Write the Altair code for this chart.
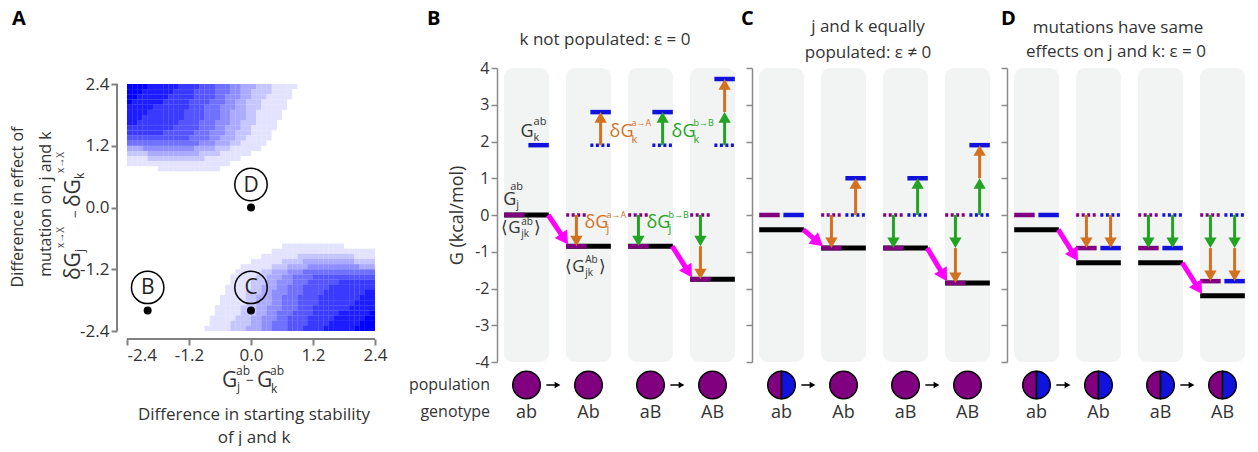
import math
import altair as alt
import pandas as pd

# ---------------- data ----------------
GENOTYPES = ["ab", "Ab", "aB", "AB"]

B_GJ = [0.0, -0.85, -0.85, -1.75]
B_GK = [1.9, 2.8, 2.8, 3.7]
B_ENS = [0.0, -0.85, -0.85, -1.75]
B_POP = ["j", "j", "j", "j"]

C_GJ = [0.0, -0.9, -0.9, -1.85]
C_GK = [0.0, 1.0, 1.0, 1.9]
C_ENS = [-0.4, -0.9, -0.9, -1.85]
C_POP = ["jk", "j", "j", "j"]

D_GJ = [0.0, -0.9, -0.9, -1.8]
D_GK = [0.0, -0.9, -0.9, -1.8]
D_ENS = [-0.4, -1.3, -1.3, -2.2]
D_POP = ["jk", "jk", "jk", "jk"]

G_TICKS = [-4, -3, -2, -1, 0, 1, 2, 3, 4]

A_TICKS = [-2.4, -1.2, 0.0, 1.2, 2.4]
# panel A colour field: 48 rows (y = 2.35 ... -2.35, step 0.1),
# each row as (level 0-9, number of 0.1-wide cells) runs from x = -2.4 to 2.4
HEAT_RUNS = [
    [(9, 4), (8, 6), (7, 4), (6, 3), (5, 3), (4, 2), (3, 3), (2, 3), (1, 5), (0, 15)],
    [(9, 3), (8, 6), (7, 4), (6, 4), (5, 3), (4, 2), (3, 2), (2, 4), (1, 4), (0, 16)],
    [(9, 2), (8, 6), (7, 5), (6, 4), (5, 2), (4, 3), (3, 2), (2, 3), (1, 5), (0, 16)],
    [(9, 1), (8, 6), (7, 5), (6, 4), (5, 3), (4, 2), (3, 2), (2, 3), (1, 5), (0, 17)],
    [(8, 5), (7, 7), (6, 3), (5, 3), (4, 3), (3, 2), (2, 3), (1, 5), (0, 17)],
    [(8, 4), (7, 7), (6, 4), (5, 3), (4, 2), (3, 3), (2, 2), (1, 5), (0, 18)],
    [(8, 3), (7, 8), (6, 4), (5, 3), (4, 2), (3, 3), (2, 2), (1, 5), (0, 18)],
    [(8, 2), (7, 8), (6, 4), (5, 3), (4, 3), (3, 2), (2, 3), (1, 4), (0, 19)],
    [(7, 9), (6, 5), (5, 3), (4, 2), (3, 3), (2, 2), (1, 5), (0, 19)],
    [(7, 7), (6, 6), (5, 3), (4, 3), (3, 2), (2, 3), (1, 4), (0, 20)],
    [(6, 12), (5, 4), (4, 2), (3, 3), (2, 2), (1, 5), (0, 20)],
    [(5, 14), (4, 3), (3, 3), (2, 2), (1, 5), (0, 21)],
    [(3, 3), (4, 10), (3, 4), (2, 3), (1, 6), (0, 22)],
    [(2, 4), (3, 10), (2, 4), (1, 6), (0, 24)],
    [(1, 4), (2, 11), (1, 7), (0, 26)],
    [(1, 20), (0, 28)],
    [(0, 6), (1, 12), (0, 30)],
    [(0, 48)],
    [(0, 48)],
    [(0, 48)],
    [(0, 48)],
    [(0, 48)],
    [(0, 48)],
    [(0, 48)],
    [(0, 48)],
    [(0, 48)],
    [(0, 48)],
    [(0, 48)],
    [(0, 48)],
    [(0, 48)],
    [(0, 48)],
    [(0, 30), (1, 12), (0, 6)],
    [(0, 28), (1, 20)],
    [(0, 26), (1, 7), (2, 11), (1, 4)],
    [(0, 24), (1, 6), (2, 4), (3, 10), (2, 4)],
    [(0, 22), (1, 6), (2, 3), (3, 4), (4, 10), (3, 3)],
    [(0, 21), (1, 5), (2, 2), (3, 3), (4, 3), (5, 14)],
    [(0, 20), (1, 5), (2, 2), (3, 3), (4, 2), (5, 4), (6, 12)],
    [(0, 20), (1, 4), (2, 3), (3, 2), (4, 3), (5, 3), (6, 6), (7, 7)],
    [(0, 19), (1, 5), (2, 2), (3, 3), (4, 2), (5, 3), (6, 5), (7, 9)],
    [(0, 19), (1, 4), (2, 3), (3, 2), (4, 3), (5, 3), (6, 4), (7, 8), (8, 2)],
    [(0, 18), (1, 5), (2, 2), (3, 3), (4, 2), (5, 3), (6, 4), (7, 8), (8, 3)],
    [(0, 18), (1, 5), (2, 2), (3, 3), (4, 2), (5, 3), (6, 4), (7, 7), (8, 4)],
    [(0, 17), (1, 5), (2, 3), (3, 2), (4, 3), (5, 3), (6, 3), (7, 7), (8, 5)],
    [(0, 17), (1, 5), (2, 3), (3, 2), (4, 2), (5, 3), (6, 4), (7, 5), (8, 6), (9, 1)],
    [(0, 16), (1, 5), (2, 3), (3, 2), (4, 3), (5, 2), (6, 4), (7, 5), (8, 6), (9, 2)],
    [(0, 16), (1, 4), (2, 4), (3, 2), (4, 2), (5, 3), (6, 4), (7, 4), (8, 6), (9, 3)],
    [(0, 15), (1, 5), (2, 3), (3, 3), (4, 2), (5, 3), (6, 3), (7, 4), (8, 6), (9, 4)],
]
HEAT_X0, HEAT_Y0, HEAT_STEP = -2.4, 2.4, 0.1

A_PTS_X = [-2.0, 0.0, 0.0]
A_PTS_Y = [-2.0, -2.0, 0.0]
A_PTS_LAB = ["B", "C", "D"]

# ---------------- style / layout ----------------
FONT = "Open Sans"
PURPLE = "#800080"
BLUE = "#1212DD"
ORANGE = "#D2711F"
GREEN = "#22A322"
MAGENTA = "#FF00FF"
INK = "#333333"
AXC = "#8a8a8a"
COLBG = "#F2F3F3"

PW, PH = 241, 294
SPACING = 14
XD = [-0.476, 3.411]
PXX = PW / (XD[1] - XD[0])
PXY = PH / 8.0
HALF = 0.363
LSIDE, RSIDE = -0.195, 0.195
HEAD_S = 150
HEAD_H = math.sqrt(HEAD_S) * math.sqrt(3) / 4
MAG_S = 220
MAG_H = math.sqrt(MAG_S) * math.sqrt(3) / 4

A_W, A_H = 356, 294
A_TOP, A_BOT = 16, 263
PXA = 248 / 4.8
PYA = (A_BOT - A_TOP) / 4.8

LEFT_HALF = "M0,-1 A1,1 0 0,0 0,1 Z"
RIGHT_HALF = "M0,-1 A1,1 0 0,1 0,1 Z"

NEG_INT = "datum.value < 0 ? '-' + format(-datum.value, 'd') : format(datum.value, 'd')"
NEG_1F = "datum.value < 0 ? '-' + format(-datum.value, '.1f') : format(datum.value, '.1f')"


def note(text, x, y, size, color=INK, align="left", angle=None, weight="normal",
         baseline="alphabetic"):
    kw = dict(align=align, baseline=baseline, fontSize=size, color=color, fontWeight=weight)
    if angle is not None:
        kw["angle"] = angle
    return alt.Chart(pd.DataFrame({"t": [text]})).mark_text(**kw).encode(
        x=alt.value(x), y=alt.value(y), text="t:N")


def panel(GJ, GK, ENS, POP, first, labels=None, titles=()):
    xs = alt.Scale(domain=XD, nice=False, zero=False)
    ys = alt.Scale(domain=[-4, 4], nice=False, zero=False)
    if first:
        yax = alt.Axis(values=G_TICKS, labelExpr=NEG_INT, tickSize=6, tickWidth=1.5,
                       tickColor=AXC, domainColor=AXC, domainWidth=1.5, labelFontSize=16,
                       labelColor=INK, labelPadding=2, title="G (kcal/mol)",
                       titleFontSize=18, titleFontWeight="normal", titleColor=INK,
                       titlePadding=8, grid=False)
    else:
        yax = alt.Axis(values=G_TICKS, labels=False, tickSize=6, tickWidth=1.5,
                       tickColor=AXC, domainColor=AXC, domainWidth=1.5, title=None, grid=False)

    def X(f="x"):
        return alt.X(f"{f}:Q", scale=xs, axis=None)

    def Y(f="y"):
        return alt.Y(f"{f}:Q", scale=ys, axis=yax)

    idx = list(range(4))
    bg = alt.Chart(pd.DataFrame({"x": [i - HALF for i in idx], "x2": [i + HALF for i in idx],
                                 "y": [-4] * 4, "y2": [4] * 4})).mark_rect(
        color=COLBG, cornerRadius=9).encode(x=X(), x2="x2:Q", y=Y("y"), y2="y2:Q")

    def hline(xa, xb, yv, color, dash=None, width=4.5):
        kw = dict(color=color, strokeWidth=width)
        if dash:
            kw["strokeDash"] = dash
        return alt.Chart(pd.DataFrame({"x": xa, "x2": xb, "y": yv})).mark_rule(**kw).encode(
            x=X(), x2="x2:Q", y=Y())

    black = hline([i - 0.36 for i in idx], [i + 0.36 for i in idx], ENS, "black", width=5)
    pur = hline([i - 0.36 for i in idx], [i - 0.03 for i in idx], GJ, PURPLE)
    blu = hline([i + 0.03 for i in idx], [i + 0.36 for i in idx], GK, BLUE)
    pdot = hline([i - 0.36 for i in idx[1:]], [i - 0.03 for i in idx[1:]], [GJ[0]] * 3,
                 PURPLE, dash=[3, 2.5], width=3.5)
    bdot = hline([i + 0.03 for i in idx[1:]], [i + 0.36 for i in idx[1:]], [GK[0]] * 3,
                 BLUE, dash=[3, 2.5], width=3.5)

    # mutation arrows
    arr = []
    for side, G in ((LSIDE, GJ), (RSIDE, GK)):
        arr.append((1 + side, G[0], G[1], "aA"))
        arr.append((2 + side, G[0], G[2], "bB"))
        arr.append((3 + side, G[0], G[2], "bB"))
        arr.append((3 + side, G[2], G[3], "aA"))
    arrow_layers = []
    for m, col in (("aA", ORANGE), ("bB", GREEN)):
        rows = []
        for x, ys0, ye, mm in arr:
            if mm != m:
                continue
            sgn = 1 if ye > ys0 else -1
            hc = ye - sgn * HEAD_H / PXY
            rows.append({"x": x, "y": ys0, "y2": hc, "hc": hc, "up": sgn > 0})
        adf = pd.DataFrame(rows)
        arrow_layers.append(alt.Chart(adf).mark_rule(strokeWidth=3, color=col).encode(
            x=X(), y=Y(), y2="y2:Q"))
        for up, shp in ((True, "triangle-up"), (False, "triangle-down")):
            sub = adf[adf["up"] == up]
            if len(sub):
                arrow_layers.append(alt.Chart(sub).mark_point(
                    shape=shp, filled=True, size=HEAD_S, color=col, opacity=1).encode(
                    x=X(), y=Y("hc")))

    # magenta arrows (ensemble change)
    mrows = []
    for i0 in (0, 2):
        x0, y0 = i0 + 0.35, ENS[i0]
        xt, yt = i0 + 1 - 0.33, ENS[i0 + 1] + 0.05
        dxp, dyp = (xt - x0) * PXX, -(yt - y0) * PXY
        L = math.hypot(dxp, dyp)
        ux, uy = dxp / L, dyp / L
        ang = math.degrees(math.atan2(dyp, dxp)) % 360
        hx, hy = xt - ux * MAG_H / PXX, yt + uy * MAG_H / PXY
        mrows.append({"x": x0, "y": y0, "x2": hx, "y2": hy, "ang": ang})
    mdf = pd.DataFrame(mrows)
    mshaft = alt.Chart(mdf).mark_rule(color=MAGENTA, strokeWidth=5).encode(
        x=X(), x2="x2:Q", y=Y(), y2="y2:Q")
    mhead = alt.Chart(mdf).mark_point(shape="triangle-right", filled=True, size=MAG_S,
                                      color=MAGENTA, opacity=1).encode(
        x=X("x2"), y=Y("y2"), angle=alt.Angle("ang:Q", scale=None))

    # population circles
    full_x = [i for i, p in enumerate(POP) if p == "j"]
    mix_x = [i for i, p in enumerate(POP) if p == "jk"]
    pop_layers = []
    for xs_, shp, col in ((full_x, "circle", PURPLE), (mix_x, LEFT_HALF, PURPLE),
                          (mix_x, RIGHT_HALF, BLUE)):
        if xs_:
            pop_layers.append(alt.Chart(pd.DataFrame({"x": xs_})).mark_point(
                shape=shp, filled=True, size=760, fill=col, stroke="black",
                strokeWidth=1.5, opacity=1).encode(x=X(), y=alt.value(317)))
    sdf = pd.DataFrame({"x": [p + 0.32 for p in (0, 2)], "x2": [p + 0.47 for p in (0, 2)],
                        "hx": [p + 0.5 for p in (0, 2)]})
    sarr = alt.Chart(sdf).mark_rule(color="black", strokeWidth=1.5).encode(
        x=X(), x2="x2:Q", y=alt.value(317))
    shead = alt.Chart(sdf).mark_point(shape="triangle-right", filled=True, size=45,
                                      color="black", opacity=1).encode(
        x=X("hx"), y=alt.value(317))
    geno = alt.Chart(pd.DataFrame({"x": idx, "g": GENOTYPES})).mark_text(
        fontSize=18, color=INK, baseline="middle").encode(x=X(), y=alt.value(345), text="g:N")

    layers = [bg, black, pur, blu, pdot, bdot] + arrow_layers + [mshaft, mhead] + \
        pop_layers + [sarr, shead, geno]

    if labels is not None:
        ldf = pd.DataFrame(labels)
        for ink, col in (("n", INK), ("aA", ORANGE), ("bB", GREEN)):
            sub = ldf[ldf["ink"] == ink]
            layers.append(alt.Chart(sub).mark_text(
                align="left", baseline="alphabetic", color=col).encode(
                x=X(), y=Y(), text="t:N", size=alt.Size("fs:Q", scale=None)))
    layers.extend(titles)
    return alt.layer(*layers).properties(width=PW, height=PH)


def pieces(ax, ay, spec, ink):
    return [{"x": ax + dx / PXX, "y": ay - dy / PXY, "t": t, "fs": fs, "ink": ink}
            for t, dx, dy, fs in spec]


blabels = []
blabels += pieces(0 + RSIDE, B_GK[0], [("G", -18, -8, 18), ("ab", -5, -20, 11),
                                       ("k", -5, -4, 11)], "n")
blabels += pieces(0 - 0.36, B_GJ[0], [("G", -1, -10, 18), ("ab", 6, -25, 11),
                                      ("j", 12, -7, 11)], "n")
blabels += pieces(0 - 0.36, B_ENS[0], [("⟨", -3, 18, 17), ("G", 4, 18, 17), ("ab", 17, 10, 10),
                                       ("jk", 17, 22, 10), ("⟩", 30, 18, 17)], "n")
blabels += pieces(1 - 0.36, B_ENS[1], [("⟨", -1, 26, 17), ("G", 6, 26, 17), ("Ab", 19, 17, 10),
                                       ("jk", 19, 30, 10), ("⟩", 33, 26, 17)], "n")
blabels += pieces(1 + RSIDE, B_GK[0], [("δG", 9, -8, 18), ("a→A", 31, -19, 9),
                                       ("k", 31, -2, 11)], "aA")
blabels += pieces(2 + RSIDE, B_GK[0], [("δG", 9, -8, 18), ("b→B", 31, -19, 9),
                                       ("k", 31, -2, 11)], "bB")
blabels += pieces(1 + LSIDE, B_GJ[0], [("δG", 8, 13, 18), ("a→A", 30, 3, 9),
                                       ("j", 30, 17, 11)], "aA")
blabels += pieces(2 + LSIDE, B_GJ[0], [("δG", 8, 13, 18), ("b→B", 30, 3, 9),
                                       ("j", 30, 17, 11)], "bB")

b_titles = [note("B", -70, -43, 20, color="black", weight="bold"),
            note("k not populated: ε = 0", 108, -23, 17, align="center"),
            note("population", -7, 317, 16, align="right", baseline="middle"),
            note("genotype", -7, 344, 16, align="right", baseline="middle")]
c_titles = [note("C", -11, -43, 20, color="black", weight="bold"),
            note("j and k equally", 116, -36, 17, align="center"),
            note("populated: ε ≠ 0", 116, -10, 17, align="center")]
d_titles = [note("D", -6, -43, 20, color="black", weight="bold"),
            note("mutations have same", 111, -35, 17, align="center"),
            note("effects on j and k: ε = 0", 109, -11, 17, align="center")]

pB = panel(B_GJ, B_GK, B_ENS, B_POP, True, blabels, b_titles)
pC = panel(C_GJ, C_GK, C_ENS, C_POP, False, None, c_titles)
pD = panel(D_GJ, D_GK, D_ENS, D_POP, False, None, d_titles)

# ---------------- panel A ----------------
AX_DOM = [-2.4, -2.4 + A_W / PXA]
AY_DOM = [-2.4 - (A_H - A_BOT) / PYA, 2.4 + A_TOP / PYA]
axs = alt.Scale(domain=AX_DOM, nice=False, zero=False)
ays = alt.Scale(domain=AY_DOM, nice=False, zero=False)
AXX = alt.Axis(values=A_TICKS, labelExpr=NEG_1F, offset=-23, domain=False, tickSize=6,
               tickWidth=2, tickColor="#808080", labelFontSize=17, labelColor=INK,
               labelPadding=2, title=None, grid=False)
AXY = alt.Axis(values=A_TICKS, labelExpr=NEG_1F, offset=10, domain=False, tickSize=6,
               tickWidth=2, tickColor="#808080", labelFontSize=17, labelColor=INK,
               labelPadding=2, title=None, grid=False)


def AX(f="x"):
    return alt.X(f"{f}:Q", scale=axs, axis=AXX)


def AY(f="y"):
    return alt.Y(f"{f}:Q", scale=ays, axis=AXY)


# cells are drawn a hair larger than the grid step so no seams show between them
OVER = 0.004
hrows = []
for r, runs in enumerate(HEAT_RUNS):
    levels = []
    for lev, n in runs:
        levels += [lev] * n
    levels = (levels + [0] * 48)[:48]
    ytop = HEAT_Y0 - r * HEAT_STEP
    for c, v in enumerate(levels):
        x0 = HEAT_X0 + c * HEAT_STEP
        hrows.append({"x": x0, "x2": min(x0 + HEAT_STEP + OVER, 2.4),
                      "y": max(ytop - HEAT_STEP - OVER, -2.4), "y2": ytop, "v": v})
hscale = alt.Scale(domain=[0, 9], range=["#ffffff", "#0000ff"], interpolate="rgb")
heat = alt.Chart(pd.DataFrame(hrows)).mark_rect().encode(
    x=AX(), x2="x2:Q", y=AY(), y2="y2:Q",
    color=alt.Color("v:Q", scale=hscale, legend=None))

# axis lines of panel A (offset from the colour field, as in the original)
ax_line_v = alt.Chart(pd.DataFrame({"x": [-2.4 - 10 / PXA], "y": [-2.4], "y2": [2.4]})).mark_rule(
    color="#808080", strokeWidth=2).encode(x=AX(), y=AY(), y2="y2:Q")
ax_line_h = alt.Chart(pd.DataFrame({"y": [-2.4 - 8 / PYA], "x": [-2.4], "x2": [2.4]})).mark_rule(
    color="#808080", strokeWidth=2).encode(y=AY(), x=AX(), x2="x2:Q")

pts = pd.DataFrame({"x": A_PTS_X, "y": A_PTS_Y, "lab": A_PTS_LAB,
                    "ly": [v + 23 / PYA for v in A_PTS_Y]})
dots = alt.Chart(pts).mark_point(filled=True, size=64, color="black", opacity=1).encode(
    x=AX(), y=AY())
rings = alt.Chart(pts).mark_point(shape="circle", filled=False, size=1050, color="black",
                                  strokeWidth=1.5, opacity=1).encode(x=AX(), y=AY("ly"))
rlab = alt.Chart(pts).mark_text(fontSize=21, color="#222", baseline="middle", dy=1).encode(
    x=AX(), y=AY("ly"), text="lab:N")

a_notes = [
    note("A", -115, -43, 20, color="black", weight="bold"),
    note("Difference in effect of", -109, 139, 16, align="center", angle=270, baseline="middle"),
    note("mutation on j and k", -81, 136, 16, align="center", angle=270, baseline="middle"),
    note("δG", -47, 212, 21, angle=270),
    note("j", -43, 184, 12, angle=270),
    note("x→X", -63, 180, 10, angle=270),
    note("−", -47, 150, 14, angle=270),
    note("δG", -47, 139, 21, angle=270),
    note("k", -43, 111, 12, angle=270),
    note("x→X", -63, 105, 10, angle=270),
    note("G", 95, 319, 21),
    note("ab", 109, 307, 12),
    note("j", 110, 323, 12),
    note("−", 119, 317, 14),
    note("G", 130, 319, 21),
    note("ab", 143, 307, 12),
    note("k", 144, 325, 12),
    note("Difference in starting stability", 127, 352, 17, align="center"),
    note("of j and k", 127, 375, 17, align="center"),
]

pA = alt.layer(heat, ax_line_v, ax_line_h, dots, rings, rlab, *a_notes).properties(
    width=A_W, height=A_H)

chart = alt.hconcat(pA, pB, pC, pD, spacing=SPACING, bounds="flush",
                    padding={"left": 2, "top": 1, "right": 0, "bottom": 0}).configure(
    font=FONT).configure_view(stroke=None)

chart.save("out.html", embed_options={"renderer": "svg", "actions": False})
